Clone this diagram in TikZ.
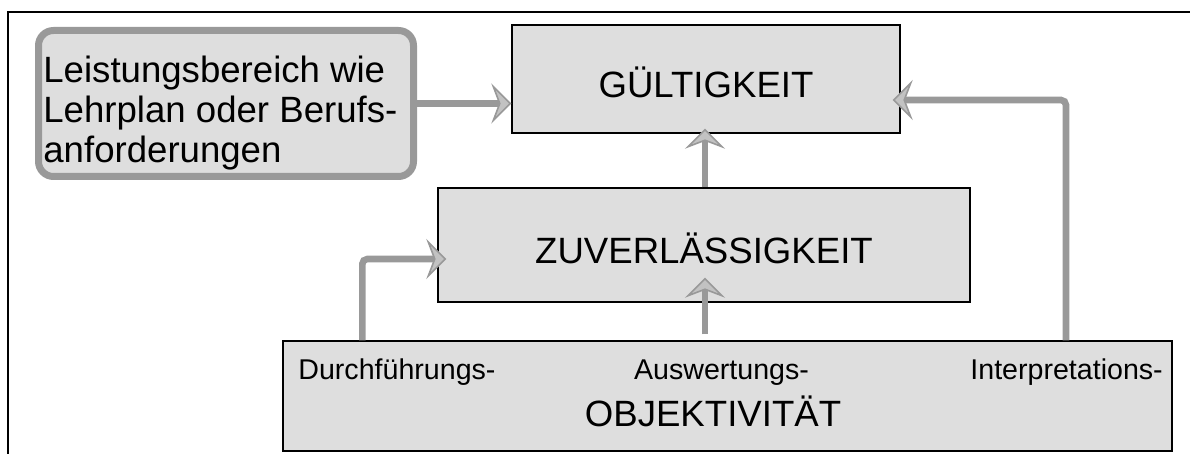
\documentclass[tikz,border=0pt]{standalone}
\usepackage{fontspec}
\setmainfont{Liberation Sans}
\usetikzlibrary{arrows.meta, positioning}
\definecolor{boxgray}{HTML}{DEDEDE}
\definecolor{linegray}{HTML}{999999}
\definecolor{tipgray}{HTML}{C2C2C2}
\tikzset{
  box/.style={shape=rectangle, draw=black, line width=0.7pt, fill=boxgray},
  bigtext/.style={font=\fontsize{18.3pt}{20pt}\selectfont},
  smalltext/.style={font=\fontsize{14.3pt}{16pt}\selectfont},
  flow/.style={draw=linegray, line width=3.3pt,
    -{Stealth[length=10pt, width=20pt, inset=3.8pt, fill=tipgray, line width=0.8pt]}},
}
\begin{document}
\begin{tikzpicture}[x=0.5pt, y=-0.5pt]
    \useasboundingbox (0,0) rectangle (1190,454);
    \draw[line width=1.1pt] (8,480) -- (8,12) -- (1220,12);

    \node[shape=rectangle, rounded corners=7.5pt, draw=linegray, line width=3.5pt, fill=boxgray,
      minimum width=187.5pt, minimum height=73pt] (lb) at (226,103.5) {};
    \node[bigtext, anchor=base west, align=left, inner sep=0pt] (lbtext) at (43,163)
      {Leistungsbereich wie\\Lehrplan oder Berufs-\\anforderungen};

    \node[box, bigtext, minimum width=194pt, minimum height=54pt, text height=19pt, text depth=0pt] (gue) at (706,79) {GÜLTIGKEIT};
    \node[box, bigtext, minimum width=266pt, minimum height=57pt, text height=19pt, text depth=0pt] (zuv) at (704,245) {ZUVERLÄSSIGKEIT};
    \node[box, minimum width=444.5pt, minimum height=55pt] (obj) at (727.5,396) {};

    \node[smalltext, anchor=base west, inner sep=0pt] (durch) at (298,380) {Durchführungs-};
    \node[smalltext, anchor=base, inner sep=0pt] (ausw) at (721.5,380) {Auswertungs-};
    \node[smalltext, anchor=base west, inner sep=0pt] (interp) at (970,380) {Interpretations-};
    \node[bigtext, anchor=base, inner sep=0pt] (objtext) at (713,427) {OBJEKTIVITÄT};

    \draw[flow] (lb.east) -- (lb.east -| gue.west);
    \draw[flow, shorten >=-2.5pt] ([xshift=0.5pt]zuv.north) -- ([xshift=0.5pt]zuv.north |- gue.south);
    \draw[flow, shorten <=3pt, shorten >=-12.5pt] ([xshift=-11.25pt]obj.north) -- ([xshift=-11.25pt]obj.north |- zuv.south);
    \draw[flow, rounded corners=2.5pt, shorten >=-4.5pt] ([xshift=40pt]obj.north west) |- ([yshift=-7pt]zuv.west);
    \draw[flow, rounded corners=2.5pt, shorten >=-4pt] ([xshift=169.25pt]obj.north) |- ([yshift=-10.5pt]gue.east);
\end{tikzpicture}
\end{document}
